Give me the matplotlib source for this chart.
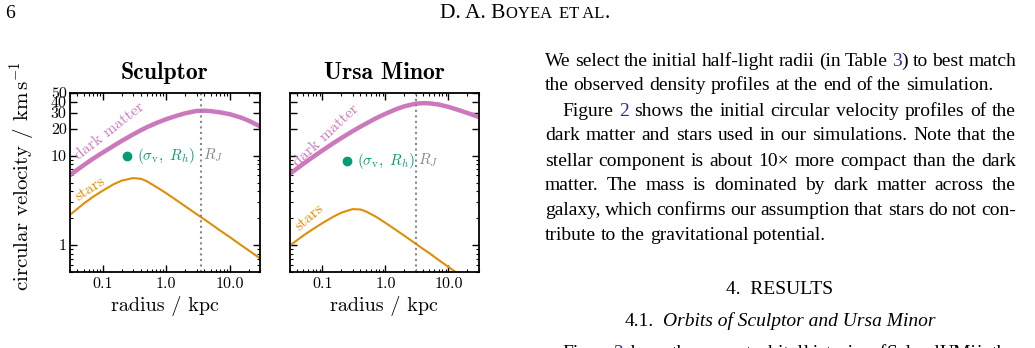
import re
import numpy as np
import matplotlib
matplotlib.use("Agg")
import matplotlib.pyplot as plt
import matplotlib.ticker as mticker

plt.rcParams['font.family'] = 'serif'
plt.rcParams['font.serif'] = ['cmr10']
plt.rcParams['mathtext.fontset'] = 'cm'
plt.rcParams['axes.formatter.use_mathtext'] = True
plt.rcParams['axes.unicode_minus'] = False

# circular velocity profiles (km/s)
radius = [0.03, 0.05, 0.07, 0.1, 0.15, 0.2, 0.3, 0.4, 0.5, 0.7, 1.0, 1.5,
          2.0, 3.0, 4.0, 5.0, 7.0, 10.0, 15.0, 20.0, 30.0]
scl_dm = [6.0, 7.8, 9.2, 10.8, 12.9, 14.6, 17.2, 19.2, 20.8, 23.1, 25.5, 28.0,
          29.7, 31.5, 31.7, 31.4, 30.4, 29.0, 26.6, 24.5, 21.2]
scl_stars = [2.15, 2.9, 3.45, 4.05, 4.8, 5.25, 5.6, 5.5, 5.15, 4.45, 3.8, 3.12,
             2.71, 2.22, 1.93, 1.73, 1.46, 1.23, 1.0, 0.87, 0.71]
umi_dm = [6.2, 8.1, 9.6, 11.4, 13.8, 15.7, 18.7, 21.0, 22.9, 26.0, 29.3, 33.1,
          35.5, 38.0, 38.5, 38.3, 37.2, 35.0, 32.0, 29.9, 27.0]
umi_stars = [0.98, 1.28, 1.5, 1.76, 2.08, 2.3, 2.52, 2.5, 2.36, 2.08, 1.77, 1.46,
             1.27, 1.04, 0.9, 0.81, 0.68, 0.57, 0.465, 0.40, 0.33]

galaxies = ["Sculptor", "Ursa Minor"]
r_jacobi = [3.55, 3.08]
r_half = [0.24, 0.245]
sigma_v = [10.0, 8.8]

x_ticks = [0.1, 1.0, 10.0]
x_ticklabels = ["0.1", "1.0", "10.0"]
y_ticks = [1, 10, 20, 30, 40, 50]
y_ticklabels = ["1", "10", "20", "30", "40", "50"]

c_dm = '#cc78bc'
c_stars = '#de8f05'
c_point = '#029e73'
c_rj = '#888888'

W, H = 1035, 348
fig = plt.figure(figsize=(W / 100, H / 100), dpi=100)
renderer = fig.canvas.get_renderer()

# axes placement in pixels: left, top, right, bottom
boxes = [(69.5, 93, 260, 272), (289.5, 93, 478.5, 272)]
dm_all = [scl_dm, umi_dm]
stars_all = [scl_stars, umi_stars]
dm_lab = [(0.042, 8.9, 38), (0.041, 7.4, 43)]
st_lab = [(0.042, 3.1, 33), (0.044, 1.42, 41)]

for i, name in enumerate(galaxies):
    l, t, r, b = boxes[i]
    ax = fig.add_axes([l / W, 1 - b / H, (r - l) / W, (b - t) / H])
    ax.plot(radius, dm_all[i], color=c_dm, lw=3.2, solid_capstyle='butt')
    ax.plot(radius, stars_all[i], color=c_stars, lw=1.5)
    ax.axvline(r_jacobi[i], color=c_rj, ls=':', lw=1.5)
    ax.plot([r_half[i]], [sigma_v[i]], 'o', color=c_point, ms=6)
    ax.text(r_half[i] * 1.45, sigma_v[i], r'$(\sigma_{\rm v},\ R_h)$', color=c_point,
            fontsize=11, va='center', ha='left')
    ax.text(r_jacobi[i] * 1.06, sigma_v[i], r'$R_J$', color=c_rj, fontsize=11,
            va='center', ha='left')
    x, y, rot = dm_lab[i]
    ax.text(x, y, 'dark matter', color=c_dm, fontsize=11.5, rotation=rot,
            rotation_mode='anchor', ha='left', va='baseline')
    x, y, rot = st_lab[i]
    ax.text(x, y, 'stars', color=c_stars, fontsize=11.5, rotation=rot,
            rotation_mode='anchor', ha='left', va='baseline')

    ax.set_xscale('log')
    ax.set_yscale('log')
    ax.set_xlim(0.03, 30)
    ax.set_ylim(0.5, 50)
    ax.set_xticks(x_ticks)
    ax.set_xticklabels(x_ticklabels)
    ax.set_yticks(y_ticks)
    ax.set_yticklabels(y_ticklabels if i == 0 else [])
    ax.xaxis.set_minor_locator(mticker.LogLocator(base=10, subs=np.arange(2, 10)))
    ax.yaxis.set_minor_locator(mticker.LogLocator(base=10, subs=np.arange(2, 10)))
    ax.xaxis.set_minor_formatter(mticker.NullFormatter())
    ax.yaxis.set_minor_formatter(mticker.NullFormatter())
    ax.tick_params(which='both', direction='in', top=True, right=True, labelsize=11.5)
    ax.tick_params(which='major', length=5, width=1)
    ax.tick_params(which='minor', length=2.5, width=0.8)
    ax.tick_params(axis='y', pad=2)
    for s in ax.spines.values():
        s.set_linewidth(1.3)
    ax.set_xlabel('radius / kpc', fontsize=14.5, labelpad=4)
    ax.set_title(name, fontsize=17, family='cmb10', pad=10)

fig.text(22 / W, 1 - 176 / H, r'circular velocity / $\mathrm{km\,s^{-1}}$',
         rotation=90, fontsize=15, ha='center', va='center')

# ---- page text around the figure ----
SERIF = 'Liberation Serif'
BLUE = '#2b2bb0'
BODY = 14


def seg_width(s, size, style='normal'):
    t = fig.text(0, 0, s, fontsize=size, family=SERIF, style=style)
    w = t.get_window_extent(renderer).width
    t.remove()
    return w


def draw_line(text, x0, y, x1=None, size=BODY, style='normal'):
    words = []
    for w in text.split():
        parts = [p for p in re.split(r'(\{[^}]*\})', w) if p]
        segs = []
        for p in parts:
            if p.startswith('{'):
                segs.append((p[1:-1], BLUE))
            else:
                segs.append((p, 'black'))
        words.append(segs)
    widths = [[seg_width(s, size, style) for s, c in w] for w in words]
    total = sum(sum(ws) for ws in widths)
    if x1 is None or len(words) < 2:
        gap = 0.25 * size * 100 / 72
    else:
        gap = (x1 - x0 - total) / (len(words) - 1)
    x = x0
    for w, ws in zip(words, widths):
        for (s, c), wd in zip(w, ws):
            fig.text(x / W, 1 - y / H, s, fontsize=size, family=SERIF, style=style,
                     color=c, ha='left', va='baseline')
            x += wd
        x += gap
    return x


col_l, col_r = 545, 1016
body = [
    ("We select the initial half-light radii (in Table {3}) to best match", col_l, True),
    ("the observed density profiles at the end of the simulation.", col_l, False),
    ("Figure {2} shows the initial circular velocity profiles of the", col_l + 17, True),
    ("dark matter and stars used in our simulations.  Note that the", col_l, True),
    ("stellar component is about 10\u00d7 more compact than the dark", col_l, True),
    ("matter.  The mass is dominated by dark matter across the", col_l, True),
    ("galaxy, which confirms our assumption that stars do not con-", col_l, True),
    ("tribute to the gravitational potential.", col_l, False),
]
for k, (txt, x0, just) in enumerate(body):
    draw_line(txt, x0, 65.5 + 25 * k, col_r if just else None)

draw_line("Figure {3} shows the present orbital histories of Scl and UMi in the",
          col_l + 17, 358, col_r)

fig.text(780 / W, 1 - 294 / H, "4.  RESULTS", fontsize=BODY, family=SERIF,
         ha='center', va='baseline')
w1 = seg_width("4.1.", BODY)
w2 = seg_width("Orbits of Sculptor and Ursa Minor", BODY, 'italic')
xs = 780 - (w1 + 9 + w2) / 2
fig.text(xs / W, 1 - 326.5 / H, "4.1.", fontsize=BODY, family=SERIF, va='baseline')
fig.text((xs + w1 + 9) / W, 1 - 326.5 / H, "Orbits of Sculptor and Ursa Minor",
         fontsize=BODY, family=SERIF, style='italic', va='baseline')

# running head
fig.text(5 / W, 1 - 18.5 / H, "6", fontsize=14, family=SERIF, va='baseline')
head = [("D. A. B", 15.5), ("OYEA ", 12), ("ET AL", 12), (".", 15.5)]
hw = [seg_width(s, sz) for s, sz in head]
hgap = 4
hx = 525 - (sum(hw) + hgap) / 2
for k, ((s, sz), wd) in enumerate(zip(head, hw)):
    fig.text(hx / W, 1 - 18.5 / H, s, fontsize=sz, family=SERIF, va='baseline')
    hx += wd + (hgap if k == 1 else 0)

fig.savefig('out.png', dpi=100)
